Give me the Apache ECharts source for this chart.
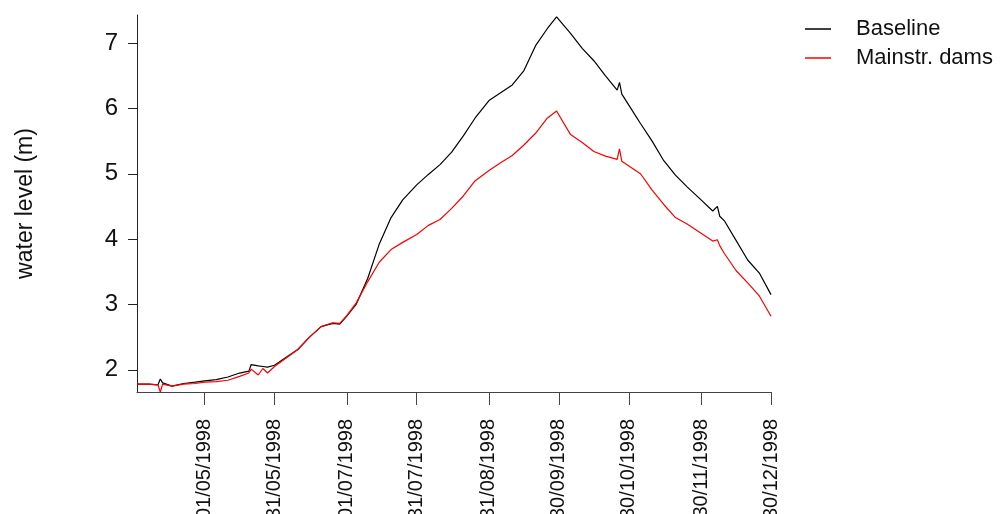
<!DOCTYPE html>
<html lang="en">
<head>
<meta charset="utf-8">
<style type="text/css">
    body {
        margin: 0;
        background-color: #fff;
    }

    #chart {
        width: 1000px;
        height: 514px;
    }
</style>
</head>
<body>
<div id="chart"></div>
<script type="text/javascript" src="https://cdn.jsdelivr.net/npm/echarts@6/dist/echarts.min.js"></script>
<script type="text/javascript">
// dates shared by both series
var dates = [
    '1998-04-02', '1998-04-07', '1998-04-11', '1998-04-12', '1998-04-13', '1998-04-17',
    '1998-04-22', '1998-04-27', '1998-05-01', '1998-05-06', '1998-05-11', '1998-05-16',
    '1998-05-20', '1998-05-21', '1998-05-24', '1998-05-26', '1998-05-28', '1998-05-31',
    '1998-06-05', '1998-06-10', '1998-06-15', '1998-06-20', '1998-06-25', '1998-06-28',
    '1998-07-01', '1998-07-05', '1998-07-10', '1998-07-15', '1998-07-20', '1998-07-25',
    '1998-07-31', '1998-08-05', '1998-08-10', '1998-08-15', '1998-08-20', '1998-08-25',
    '1998-08-31', '1998-09-05', '1998-09-10', '1998-09-15', '1998-09-20', '1998-09-25',
    '1998-09-29', '1998-10-05', '1998-10-10', '1998-10-15', '1998-10-20', '1998-10-25',
    '1998-10-26', '1998-10-27', '1998-10-30', '1998-11-04', '1998-11-09', '1998-11-14',
    '1998-11-19', '1998-11-24', '1998-11-30', '1998-12-05', '1998-12-07', '1998-12-08',
    '1998-12-10', '1998-12-15', '1998-12-20', '1998-12-25', '1998-12-30'
];

var baseline = [
    1.78, 1.78, 1.77, 1.86, 1.80, 1.75,
    1.79, 1.81, 1.83, 1.85, 1.89, 1.95,
    1.98, 2.08, 2.06, 2.05, 2.04, 2.07,
    2.19, 2.31, 2.50, 2.66, 2.71, 2.70,
    2.82, 3.00, 3.40, 3.93, 4.33, 4.60,
    4.83, 4.99, 5.14, 5.33, 5.58, 5.85,
    6.12, 6.24, 6.36, 6.58, 6.96, 7.22,
    7.40, 7.15, 6.92, 6.73, 6.50, 6.28,
    6.40, 6.22, 6.05, 5.77, 5.50, 5.20,
    4.98, 4.80, 4.60, 4.43, 4.50, 4.35,
    4.28, 3.98, 3.68, 3.48, 3.15
];

var mainstrDams = [
    1.78, 1.78, 1.77, 1.66, 1.78, 1.75,
    1.78, 1.79, 1.81, 1.82, 1.84, 1.90,
    1.95, 2.01, 1.92, 2.02, 1.95, 2.05,
    2.18, 2.31, 2.50, 2.66, 2.72, 2.71,
    2.83, 3.02, 3.35, 3.65, 3.84, 3.95,
    4.07, 4.21, 4.30, 4.47, 4.66, 4.89,
    5.05, 5.17, 5.28, 5.44, 5.62, 5.85,
    5.96, 5.60, 5.48, 5.34, 5.27, 5.22,
    5.38, 5.19, 5.12, 5.00, 4.75, 4.53,
    4.33, 4.23, 4.09, 3.97, 3.99, 3.90,
    3.78, 3.52, 3.33, 3.13, 2.82
];

var xTicks = ['1998-05-01', '1998-05-31', '1998-07-01', '1998-07-31', '1998-08-31',
    '1998-09-30', '1998-10-30', '1998-11-30', '1998-12-30'];
var yTicks = [2, 3, 4, 5, 6, 7];

function toTime(s) {
    var p = s.split('-');
    return Date.UTC(+p[0], +p[1] - 1, +p[2]);
}

function pad(n) {
    return n < 10 ? '0' + n : '' + n;
}

function pairs(vals) {
    return dates.map(function(d, i) {
        return [toTime(d), vals[i]];
    });
}

var font = 'Liberation Sans, Arial, sans-serif';
var myChart = echarts.init(document.getElementById('chart'));

var option = {
    animation: false,
    backgroundColor: '#fff',
    grid: {
        left: 137,
        right: 229,
        top: 15,
        bottom: 122,
        containLabel: false,
        outerBoundsMode: 'none'
    },
    legend: {
        orient: 'vertical',
        left: 800,
        top: 13,
        itemGap: 7,
        itemWidth: 26,
        itemHeight: 1.5,
        icon: 'rect',
        textStyle: {
            fontFamily: font,
            fontSize: 22,
            lineHeight: 22,
            color: '#111',
            padding: [0, 0, 0, 20]
        },
        data: ['Baseline', 'Mainstr. dams']
    },
    xAxis: {
        type: 'value',
        min: toTime('1998-04-02'),
        max: toTime('1998-12-30'),
        splitLine: { show: false },
        axisLine: { lineStyle: { color: '#444', width: 1 } },
        axisTick: {
            length: 13,
            customValues: xTicks.map(toTime),
            lineStyle: { color: '#444' }
        },
        axisLabel: {
            customValues: xTicks.map(toTime),
            rotate: 90,
            margin: 27,
            fontFamily: font,
            fontSize: 20,
            color: '#111',
            formatter: function(v) {
                var d = new Date(v);
                return pad(d.getUTCDate()) + '/' + pad(d.getUTCMonth() + 1) + '/' + d.getUTCFullYear();
            }
        }
    },
    yAxis: {
        type: 'value',
        min: 1.66,
        max: 7.43,
        name: 'water level (m)',
        nameLocation: 'middle',
        nameGap: 100,
        nameTextStyle: {
            fontFamily: font,
            fontSize: 23,
            color: '#111'
        },
        splitLine: { show: false },
        axisLine: { show: true, lineStyle: { color: '#222', width: 1 } },
        axisTick: {
            show: true,
            length: 9,
            customValues: yTicks,
            lineStyle: { color: '#222' }
        },
        axisLabel: {
            customValues: yTicks,
            margin: 19,
            fontFamily: font,
            fontSize: 24,
            color: '#111'
        }
    },
    series: [{
        name: 'Baseline',
        type: 'line',
        data: pairs(baseline),
        showSymbol: false,
        symbol: 'none',
        itemStyle: { color: '#000' },
        lineStyle: { color: '#000', width: 1.2 }
    }, {
        name: 'Mainstr. dams',
        type: 'line',
        data: pairs(mainstrDams),
        showSymbol: false,
        symbol: 'none',
        itemStyle: { color: '#ff0000' },
        lineStyle: { color: '#ff0000', width: 1.2 }
    }]
};
myChart.setOption(option);
</script>
</body>
</html>
